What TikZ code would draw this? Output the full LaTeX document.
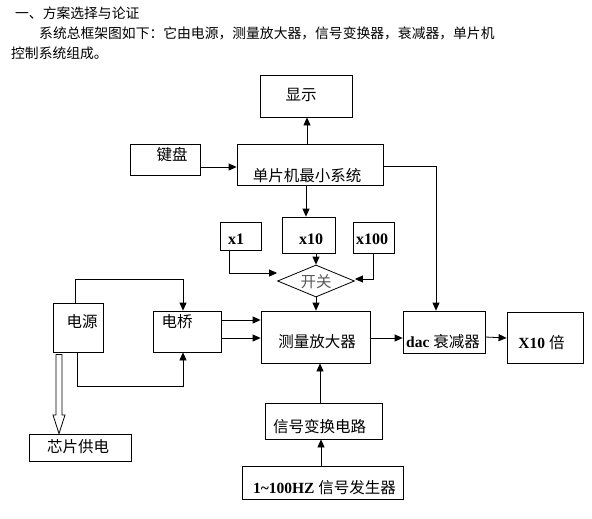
\documentclass[tikz,border=0pt]{standalone}
\usepackage{fontspec}
\setmainfont{Noto Sans CJK SC}
\newfontfamily\tnr{Liberation Serif}
\usetikzlibrary{arrows.meta,shapes.geometric}
\begin{document}
\begin{tikzpicture}[x=1pt,y=-1pt,
  box/.style={draw,line width=0.8pt,inner sep=0pt},
  txt/.style={inner sep=0pt,font=\fontsize{15.5}{16}\selectfont},
  lat/.style={inner sep=0pt,font=\fontsize{16}{16}\selectfont\tnr\bfseries},
  head/.style={inner sep=0pt,anchor=west,font=\fontsize{13.8}{14}\selectfont},
  arr/.style={line width=0.8pt,-{Triangle[length=8pt,width=7pt]}},
  ln/.style={line width=0.8pt}]
\useasboundingbox (0,0) rectangle (592,519);
% header
\node[head] (h1) at (15,13) {一、方案选择与论证};
\node[head] (h2) at (39,33) {系统总框架图如下：它由电源，测量放大器，信号变换器，衰减器，单片机};
\node[head] (h3) at (11,53) {控制系统组成。};
% boxes
\node[box,minimum width=92pt,minimum height=42pt] (disp) at (306,96) {};
\node[txt] (tdisp) at (301,95) {显示};
\node[box,minimum width=70pt,minimum height=31pt] (kb) at (165,159.5) {};
\node[txt] (tkb) at (172,155) {键盘};
\node[box,minimum width=146pt,minimum height=41pt] (mcu) at (310,164.5) {};
\node[txt] (tmcu) at (307,176) {单片机最小系统};
\node[box,minimum width=41pt,minimum height=28pt] (x1) at (240.5,236) {};
\node[lat] (tx1) at (236,239) {x1};
\node[box,minimum width=53pt,minimum height=36pt] (x10) at (308.5,235) {};
\node[lat] (tx10) at (311,239) {x10};
\node[box,minimum width=41pt,minimum height=31pt] (x100) at (373.5,237.5) {};
\node[lat] (tx100) at (372,239) {x100};
\node[box,shape=diamond,minimum width=77pt,minimum height=32pt] (sw) at (316,281) {};
\node[txt,text=black!65] (tsw) at (316,282) {开关};
\node[box,minimum width=109pt,minimum height=52pt] (amp) at (315.5,337) {};
\node[txt] (tamp) at (317,342) {测量放大器};
\node[box,minimum width=82pt,minimum height=42pt] (dac) at (444,332) {};
\node[txt] (tdac) at (443,342) {{\tnr\bfseries dac }衰减器};
\node[box,minimum width=76pt,minimum height=51pt] (xb) at (545,337.5) {};
\node[txt] (txb) at (541.5,343) {{\tnr\bfseries X10 }倍};
\node[box,minimum width=50pt,minimum height=49pt] (ps) at (78,327.5) {};
\node[txt] (tps) at (82,322) {电源};
\node[box,minimum width=68pt,minimum height=41pt] (br) at (187,331.5) {};
\node[txt] (tbr) at (177,322) {电桥};
\node[box,minimum width=102pt,minimum height=27pt] (chip) at (80,447.5) {};
\node[txt] (tchip) at (78,447) {芯片供电};
\node[box,minimum width=117pt,minimum height=36pt] (conv) at (323.5,421) {};
\node[txt] (tconv) at (319.5,427) {信号变换电路};
\node[box,minimum width=161pt,minimum height=33pt] (gen) at (322.5,482.5) {};
\node[txt] (tgen) at (324.5,488) {{\tnr\bfseries 1\textasciitilde100HZ }信号发生器};
% connectors
\draw[arr] (mcu.north -| 307,0) -- (disp.south -| 307,0);
\draw[arr] (kb.east |- 0,167) -- (mcu.west |- 0,167);
\draw[arr] (mcu.east |- 0,166) -| (dac.north -| 436,0);
\draw[arr] (mcu.south -| 306,0) -- (x10.north -| 306,0);
\draw[arr] (x10.south -| 316,0) -- (sw.north);
\draw[arr] (x1.south -| 229,0) |- (sw.west |- 0,273);
\draw[arr] (x100.south -| 373,0) |- (sw.east |- 0,279);
\draw[arr] (sw.south) -- (amp.north -| sw.south);
\draw[arr] (ps.north -| 75,0) -- (75,279) -| (br.north -| 183,0);
\draw[arr] (ps.south -| 77,0) -- (77,386) -| (br.south -| 183,0);
\draw[arr] (br.east |- 0,320) -- (amp.west |- 0,320);
\draw[arr] (br.east |- 0,338) -- (amp.west |- 0,338);
\draw[arr] (amp.east |- 0,338) -- (dac.west |- 0,338);
\draw[arr] (dac.east |- 0,337) -- (xb.west |- 0,338);
\draw[arr] (conv.north -| 320,0) -- (amp.south -| 320,0);
\draw[arr] (gen.north -| 321,0) -- (conv.south -| 321,0);
% hollow arrow from power supply to chip supply
\draw[ln,line join=miter] ([yshift=-2pt]ps.south -| 56,0) -- (56,415) -- (53,415) -- (chip.north -| 59,0) -- (65,415) -- (62,415) -- ([yshift=-2pt]ps.south -| 62,0) -- cycle;
\end{tikzpicture}
\end{document}
